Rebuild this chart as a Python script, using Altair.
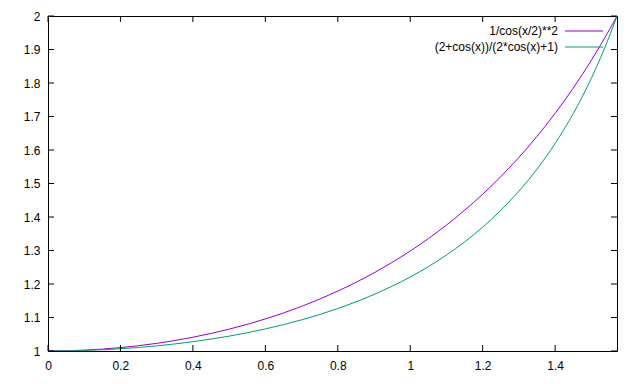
import altair as alt
import pandas as pd

# Values
xs = [0.0, 0.1, 0.2, 0.3, 0.4, 0.5, 0.55, 0.6, 0.65, 0.7, 0.75, 0.8, 0.85, 0.9, 0.95,
      1.0, 1.05, 1.1, 1.15, 1.2, 1.25, 1.3, 1.35, 1.4, 1.45, 1.5, 1.55, 1.5708]
f1 = [1.0, 1.0025, 1.0101, 1.0228, 1.0411, 1.0652, 1.0796, 1.0957, 1.1135, 1.1332,
      1.1549, 1.1788, 1.2048, 1.2333, 1.2645, 1.2984, 1.3355, 1.3759, 1.4200, 1.4680,
      1.5205, 1.5779, 1.6407, 1.7094, 1.7849, 1.8679, 1.9593, 2.0]
f2 = [1.0, 1.0017, 1.0067, 1.0153, 1.0278, 1.0444, 1.0545, 1.0659, 1.0787, 1.0930,
      1.1089, 1.1267, 1.1466, 1.1687, 1.1934, 1.2209, 1.2518, 1.2865, 1.3255, 1.3697,
      1.4199, 1.4772, 1.5431, 1.6195, 1.7087, 1.8141, 1.9401, 2.0]
names = ["1/cos(x/2)**2", "(2+cos(x))/(2*cos(x)+1)"]
colors = ["#9400d3", "#009e73"]
x_ticks = [0, 0.2, 0.4, 0.6, 0.8, 1.0, 1.2, 1.4]
y_ticks = [1, 1.1, 1.2, 1.3, 1.4, 1.5, 1.6, 1.7, 1.8, 1.9, 2]

W, H = 569, 335
FONT = "Liberation Sans"

df = pd.concat([
    pd.DataFrame({"x": xs, "y": f1, "s": names[0]}),
    pd.DataFrame({"x": xs, "y": f2, "s": names[1]}),
])

xscale = alt.Scale(domain=[0, 1.5708], nice=False, zero=False)
yscale = alt.Scale(domain=[1, 2], nice=False, zero=False)
cscale = alt.Scale(domain=names, range=colors)
xaxis = alt.Axis(values=x_ticks, format="~f", title=None, labelPadding=9,
                 ticks=False, domain=False, grid=False, labelFlush=False,
                 labelOverlap=False)
yaxis = alt.Axis(values=y_ticks, format="~f", title=None, labelPadding=8,
                 ticks=False, domain=False, grid=False, labelOverlap=False,
                 labelFlush=False)

lines = alt.Chart(df).mark_line(strokeWidth=1, clip=True, interpolate="monotone").encode(
    x=alt.X("x:Q", scale=xscale, axis=xaxis),
    y=alt.Y("y:Q", scale=yscale, axis=yaxis),
    color=alt.Color("s:N", scale=cscale, legend=None),
    detail="s:N",
)

xt = pd.DataFrame({"x": x_ticks})
yt = pd.DataFrame({"y": y_ticks})
tick_bottom = alt.Chart(xt).mark_rule(color="black", strokeWidth=1).encode(
    x=alt.X("x:Q", scale=xscale, axis=xaxis), y=alt.value(H), y2=alt.value(H - 6))
tick_top = alt.Chart(xt).mark_rule(color="black", strokeWidth=1).encode(
    x=alt.X("x:Q", scale=xscale, axis=xaxis), y=alt.value(0), y2=alt.value(6))
tick_left = alt.Chart(yt).mark_rule(color="black", strokeWidth=1).encode(
    y=alt.Y("y:Q", scale=yscale, axis=yaxis), x=alt.value(0), x2=alt.value(6))
tick_right = alt.Chart(yt).mark_rule(color="black", strokeWidth=1).encode(
    y=alt.Y("y:Q", scale=yscale, axis=yaxis), x=alt.value(W), x2=alt.value(W - 6))

leg_layers = []
for i, (nm, col) in enumerate(zip(names, colors)):
    ly = 15 + 16 * i
    one = pd.DataFrame({"s": [nm]})
    leg_layers.append(alt.Chart(one).mark_text(
        align="right", baseline="middle", font=FONT, fontSize=12, color="black"
    ).encode(text="s:N", x=alt.value(510), y=alt.value(ly)))
    leg_layers.append(alt.Chart(one).mark_rule(strokeWidth=1, color=col).encode(
        x=alt.value(517), x2=alt.value(555), y=alt.value(ly)))

chart = alt.layer(lines, tick_bottom, tick_top, tick_left, tick_right,
                  *leg_layers).properties(
    width=W, height=H,
    autosize=alt.AutoSizeParams(type="none"),
    padding={"left": 48, "top": 16, "right": 640 - 48 - W, "bottom": 384 - 16 - H},
    background="white",
).configure_view(stroke="black", strokeWidth=1).configure_axis(
    labelFont=FONT, labelFontSize=12, labelColor="black"
)

chart.save("out.html", embed_options={"renderer": "svg", "actions": False})
